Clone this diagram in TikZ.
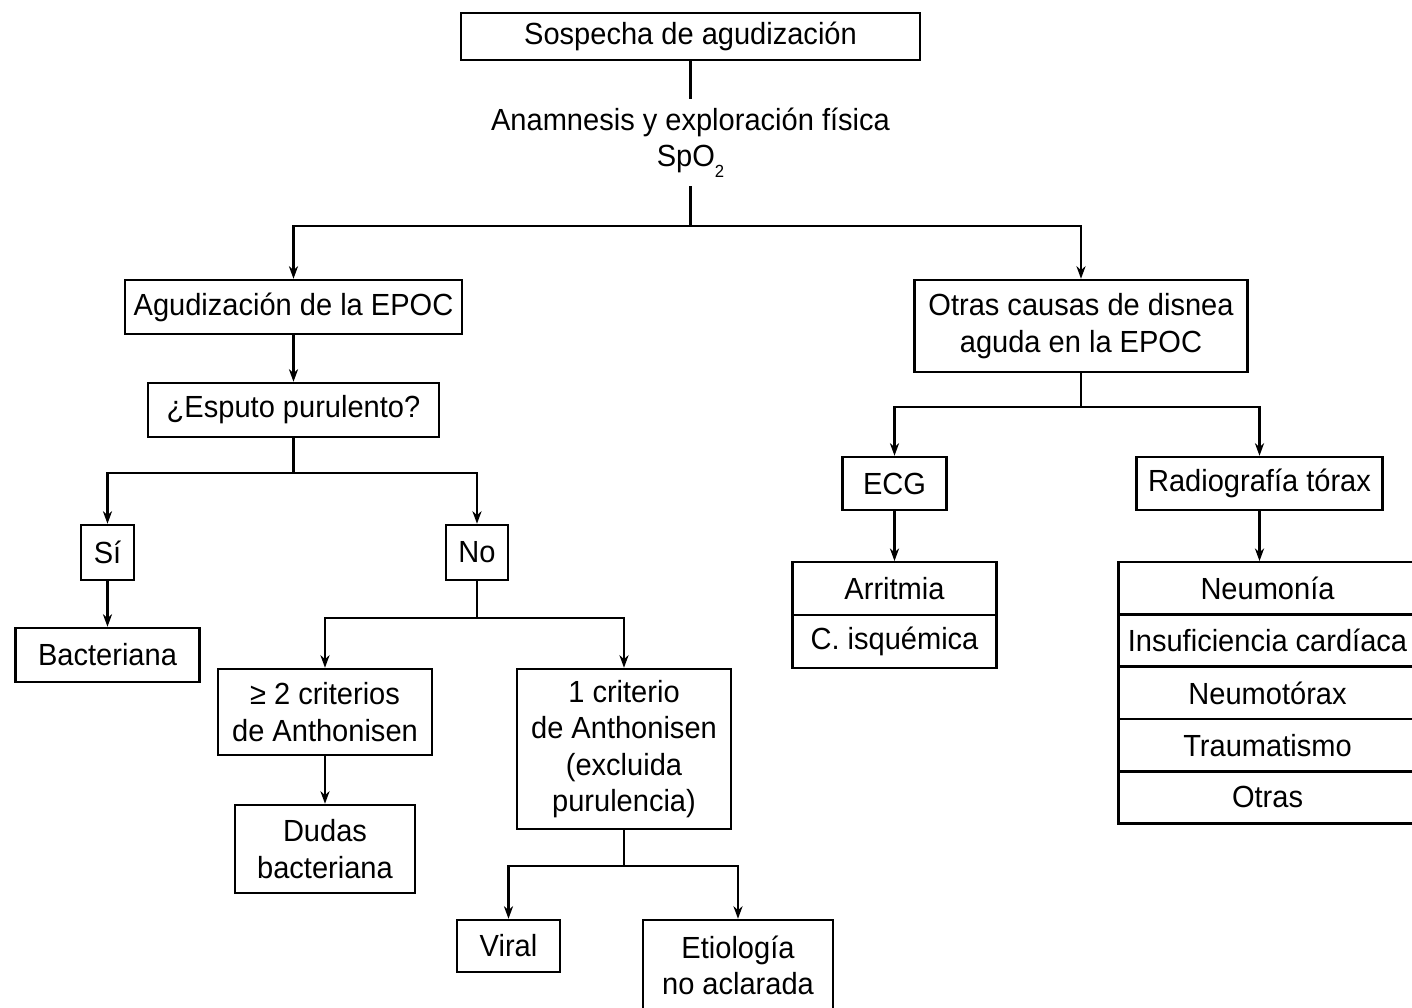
\documentclass[tikz,border=0pt]{standalone}
\usepackage{fontspec}
\setmainfont{Liberation Sans}[FakeStretch=0.95]
\usepackage{tikz}
\usetikzlibrary{positioning, arrows.meta}

\begin{document}
\begin{tikzpicture}[->,>={Stealth[length=3.6pt,width=2.6pt]},line width=0.7pt,
    box/.style={draw,rectangle,align=center,inner sep=0pt,font=\fontsize{8.7}{10.3}\selectfont},
    celda/.style={box,minimum height=0.525cm}]
    \useasboundingbox (-6.905,0.365) rectangle (7.215,-9.705);

    \node[box,minimum width=4.59cm,minimum height=0.47cm] (sosp) {Sospecha de agudización};
    \node[box,draw=none,minimum height=0.85cm] (anam) [node distance=1.06cm, below of=sosp] {Anamnesis y exploración física\\SpO\raisebox{-0.7ex}{\fontsize{5}{5}\selectfont 2}};

    % rama EPOC
    \node[box,minimum width=3.37cm,minimum height=0.54cm] (agud) [node distance=1.645cm, below of=anam, xshift=-3.97cm] {Agudización de la EPOC};
    \node[box,minimum width=2.91cm,minimum height=0.54cm] (esputo) [node distance=1.03cm, below of=agud] {¿Esputo purulento?};
    \node[box,minimum width=0.53cm,minimum height=0.55cm] (si) [node distance=1.425cm, below of=esputo, xshift=-1.86cm] {Sí};
    \node[box,minimum width=0.62cm,minimum height=0.55cm] (no) [node distance=1.425cm, below of=esputo, xshift=1.835cm] {No};
    \node[box,minimum width=1.84cm,minimum height=0.54cm] (bact) [node distance=1.025cm, below of=si] {Bacteriana};
    \node[box,minimum width=2.14cm,minimum height=0.86cm] (crit2) [node distance=1.595cm, below of=no, xshift=-1.52cm] {≥ 2 criterios\\de Anthonisen};
    \node[box,minimum width=2.14cm,minimum height=1.6cm] (crit1) [node distance=1.965cm, below of=no, xshift=1.47cm] {1 criterio\\de Anthonisen\\(excluida\\purulencia)};
    \node[box,minimum width=1.8cm,minimum height=0.88cm] (dudas) [node distance=1.37cm, below of=crit2] {Dudas\\bacteriana};
    \node[box,minimum width=1.03cm,minimum height=0.52cm] (viral) [node distance=1.97cm, below of=crit1, xshift=-1.155cm] {Viral};
    \node[box,minimum width=1.9cm,minimum height=0.9cm] (etio) [node distance=2.16cm, below of=crit1, xshift=1.14cm] {Etiología\\no aclarada};

    % otras causas
    \node[box,minimum width=3.33cm,minimum height=0.92cm] (otras) [node distance=1.835cm, below of=anam, xshift=3.905cm] {Otras causas de disnea\\aguda en la EPOC};
    \node[box,minimum width=1.04cm,minimum height=0.53cm] (ecg) [node distance=1.575cm, below of=otras, xshift=-1.865cm] {ECG};
    \node[box,minimum width=2.46cm,minimum height=0.53cm] (rx) [node distance=1.575cm, below of=otras, xshift=1.785cm] {Radiografía tórax};
    \node[celda,minimum width=2.04cm] (arrit) [node distance=1.05cm, below of=ecg] {Arritmia};
    \node[celda,minimum width=2.04cm] (isq) [node distance=0.53cm, below of=arrit] {C. isquémica};
    \node[celda,minimum width=2.98cm] (neum) [node distance=1.05cm, below of=rx, xshift=0.08cm] {Neumonía};
    \node[celda,minimum width=2.98cm] (insuf) [node distance=0.522cm, below of=neum] {Insuficiencia cardíaca};
    \node[celda,minimum width=2.98cm] (neumot) [node distance=0.522cm, below of=insuf] {Neumotórax};
    \node[celda,minimum width=2.98cm] (trauma) [node distance=0.522cm, below of=neumot] {Traumatismo};
    \node[celda,minimum width=2.98cm] (otras2) [node distance=0.522cm, below of=trauma] {Otras};

    \draw[-] (sosp) -- (anam);
    \draw (anam.south) -- ++(0,-0.4) -| (agud.north);
    \draw (anam.south) -- ++(0,-0.4) -| (otras.north);
    \draw (agud) -- (esputo);
    \draw (esputo.south) -- ++(0,-0.35) -| (si.north);
    \draw (esputo.south) -- ++(0,-0.35) -| (no.north);
    \draw (si) -- (bact);
    \draw (no.south) -- ++(0,-0.37) -| (crit2.north);
    \draw (no.south) -- ++(0,-0.37) -| (crit1.north);
    \draw (crit2) -- (dudas);
    \draw (crit1.south) -- ++(0,-0.36) -| (viral.north);
    \draw (crit1.south) -- ++(0,-0.36) -| (etio.north);
    \draw (otras.south) -- ++(0,-0.34) -| (ecg.north);
    \draw (otras.south) -- ++(0,-0.34) -| (rx.north);
    \draw (ecg) -- (arrit);
    \draw (rx.south) -- (rx.south |- neum.north);
\end{tikzpicture}
\end{document}
